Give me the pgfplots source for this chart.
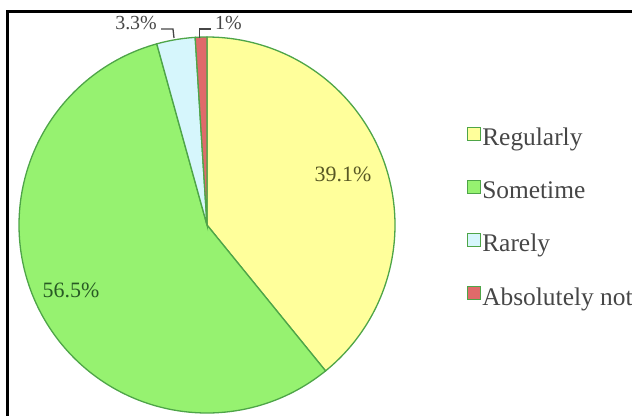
\documentclass[border=0pt]{standalone}
\usepackage{pgfplots}
\pgfplotsset{compat=1.18}
\usepackage{pgfplotstable}
\usepackage{fontspec}
\setmainfont{Liberation Serif}
\definecolor{cReg}{RGB}{255,255,155}
\definecolor{cSom}{RGB}{150,242,112}
\definecolor{cRar}{RGB}{214,246,252}
\definecolor{cAbs}{RGB}{224,106,106}
\definecolor{cEdge}{RGB}{78,165,72}
\definecolor{cTxtY}{RGB}{88,88,36}
\definecolor{cTxtG}{RGB}{40,90,36}
\definecolor{cTxtK}{RGB}{70,70,70}
\pgfplotstableread{
label value
Regularly 39.1
Sometime 56.5
Rarely 3.3
Absolutely 1
}\piedata
\begin{document}
\begin{tikzpicture}
\pgfplotstablegetelem{0}{value}\of\piedata \let\va\pgfplotsretval
\pgfplotstablegetelem{1}{value}\of\piedata \let\vb\pgfplotsretval
\pgfplotstablegetelem{2}{value}\of\piedata \let\vc\pgfplotsretval
\pgfplotstablegetelem{3}{value}\of\piedata \let\vd\pgfplotsretval
\pgfmathsetmacro\total{\va+\vb+\vc+\vd}
\pgfmathsetmacro\aA{90}
\pgfmathsetmacro\aB{\aA-360*(\va/\total)}
\pgfmathsetmacro\aC{\aB-360*(\vb/\total)}
\pgfmathsetmacro\aD{\aC-360*(\vc/\total)}
\pgfmathsetmacro\aE{\aD-360*(\vd/\total)}
\begin{axis}[
  name=ax,
  scale only axis, width=632bp, height=416bp,
  xmin=0, xmax=632, ymin=0, ymax=416, y dir=reverse,
  hide axis, clip=false,
  legend cell align=left,
  legend image code/.code={\draw[#1,line width=0.9pt] (0bp,-0.5bp) rectangle (13bp,12.5bp);},
  legend style={at={(axis cs:467,219)}, anchor=west, draw=none, fill=none,
    font=\fontsize{25.5}{28}\selectfont, row sep=28bp, column sep=0pt, inner sep=0pt,
    nodes={inner sep=1.2bp, text height=17bp, text depth=5bp, text=cTxtK}},
]
\addplot[fill=cReg, draw=cEdge, line width=1.3pt, domain=\aB:\aA, samples=120, forget plot]
  ({207+188*cos(x)},{225-188*sin(x)}) -- (axis cs:207,225) -- cycle;
\addplot[fill=cSom, draw=cEdge, line width=1.3pt, domain=\aC:\aB, samples=160, forget plot]
  ({207+188*cos(x)},{225-188*sin(x)}) -- (axis cs:207,225) -- cycle;
\addplot[fill=cRar, draw=cEdge, line width=1.3pt, domain=\aD:\aC, samples=20, forget plot]
  ({207+188*cos(x)},{225-188*sin(x)}) -- (axis cs:207,225) -- cycle;
\addplot[fill=cAbs, draw=cEdge, line width=1.3pt, domain=\aE:\aD, samples=10, forget plot]
  ({207+188*cos(x)},{225-188*sin(x)}) -- (axis cs:207,225) -- cycle;
\addlegendimage{fill=cReg, draw=cEdge}
\addlegendentry{Regularly}
\addlegendimage{fill=cSom, draw=cEdge}
\addlegendentry{Sometime}
\addlegendimage{fill=cRar, draw=cEdge}
\addlegendentry{Rarely}
\addlegendimage{fill=cAbs, draw=cEdge}
\addlegendentry{Absolutely not}
% data labels
\node[text=cTxtY, font=\fontsize{22}{24}\selectfont] at (axis cs:343,174) {39.1\%};
\node[text=cTxtG, font=\fontsize{22}{24}\selectfont] at (axis cs:71,290) {56.5\%};
\node[text=cTxtK, font=\fontsize{20}{22}\selectfont, anchor=east, inner sep=0pt] at (axis cs:157,23) {3.3\%};
\node[text=cTxtK, font=\fontsize{20}{22}\selectfont, anchor=west, inner sep=0pt] at (axis cs:215,23) {1\%};
\draw[cTxtK, line width=1.3pt] (axis cs:161,29) -- (axis cs:173,29) -- (axis cs:174,38);
\draw[cTxtK, line width=1.3pt] (axis cs:199.5,38) -- (axis cs:199.5,29) -- (axis cs:211,29);
% frame
\draw[black, line width=2.6bp] (axis cs:7.5,416) -- (axis cs:7.5,11.5) -- (axis cs:632,11.5);
\end{axis}
\pgfresetboundingbox
\path (ax.south west) rectangle (ax.north east);
\end{tikzpicture}
\end{document}
